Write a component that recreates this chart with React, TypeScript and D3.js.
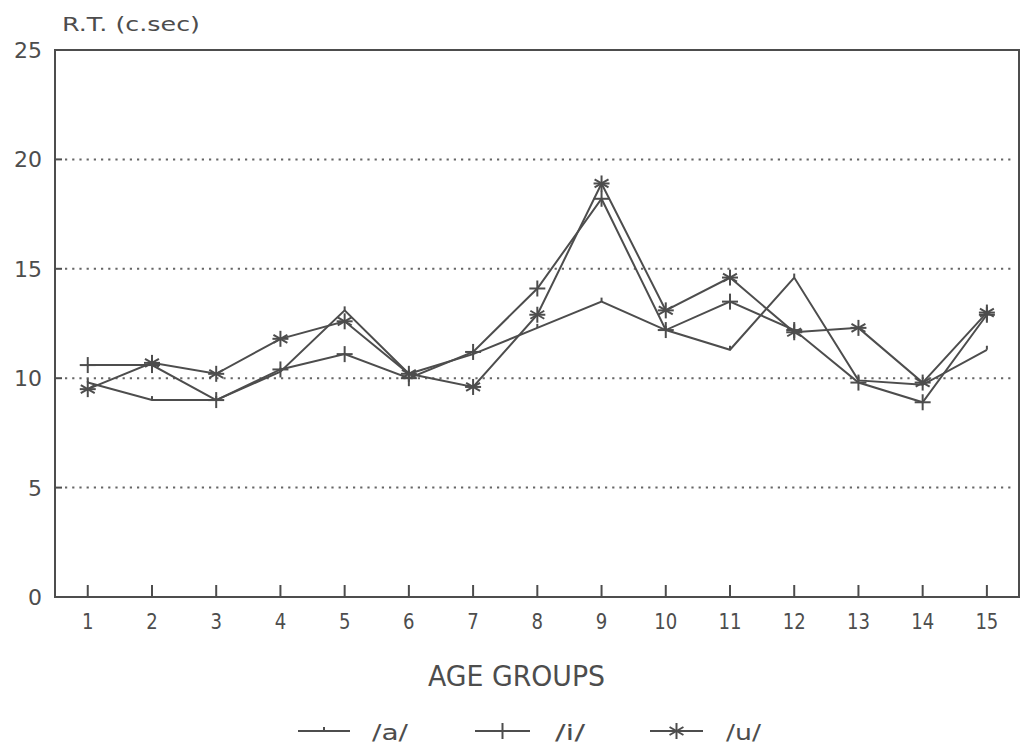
import React from "react";
import * as d3 from "d3";

const groups = [1, 2, 3, 4, 5, 6, 7, 8, 9, 10, 11, 12, 13, 14, 15];
const seriesA = [9.8, 9.0, 9.0, 10.3, 13.1, 10.2, 11.1, 12.3, 13.5, 12.2, 11.3, 14.6, 9.9, 9.7, 11.3];
const seriesI = [10.6, 10.6, 9.0, 10.4, 11.1, 10.0, 11.2, 14.1, 18.2, 12.2, 13.5, 12.2, 9.8, 8.9, 12.9];
const seriesU = [9.5, 10.7, 10.2, 11.8, 12.6, 10.2, 9.6, 12.9, 18.9, 13.1, 14.6, 12.1, 12.3, 9.8, 13.0];
const yTicks = [0, 5, 10, 15, 20, 25];
const gridTicks = [5, 10, 15, 20];
const seriesNames = ["/a/", "/i/", "/u/"];
const yTitle = "R.T. (c.sec)";
const xTitle = "AGE GROUPS";

const INK = "#4d4d4d";
const FONT = "'DejaVu Sans', sans-serif";

function Marker({ kind, x, y }: { kind: string; x: number; y: number }) {
  if (kind === "a") {
    return <line x1={x} x2={x} y1={y} y2={y - 4} stroke={INK} strokeWidth={2} />;
  }
  if (kind === "i") {
    return (
      <g stroke={INK} strokeWidth={2}>
        <line x1={x} x2={x} y1={y - 8} y2={y + 8} />
        <line x1={x - 8} x2={x + 8} y1={y} y2={y} />
      </g>
    );
  }
  const r = 8;
  return (
    <g stroke={INK} strokeWidth={2}>
      <line x1={x} x2={x} y1={y - r} y2={y + r} />
      <line x1={x - r * 0.87} x2={x + r * 0.87} y1={y - r * 0.5} y2={y + r * 0.5} />
      <line x1={x - r * 0.87} x2={x + r * 0.87} y1={y + r * 0.5} y2={y - r * 0.5} />
      <line x1={x - r} x2={x + r} y1={y} y2={y} />
    </g>
  );
}

export default function App() {
  const left = 55, right = 1019, top = 50, bottom = 597;
  const x = d3.scaleLinear().domain([0.49, 15.5]).range([left, right]);
  const y = d3.scaleLinear().domain([0, 25]).range([bottom, top]);
  const line = d3
    .line<number>()
    .x((_, i) => x(groups[i]))
    .y((d) => y(d));

  const all = [
    { key: "a", data: seriesA },
    { key: "i", data: seriesI },
    { key: "u", data: seriesU },
  ];

  const legendX = [
    { key: "a", x1: 298, x2: 350, tx: 372, w: 36 },
    { key: "i", x1: 475, x2: 530, tx: 555, w: 30 },
    { key: "u", x1: 650, x2: 703, tx: 726, w: 35 },
  ];

  return (
    <svg
      width={1024}
      height={752}
      style={{ position: "absolute", left: 0, top: 0, background: "#fff" }}
      fontFamily={FONT}
    >
      <rect width={1024} height={752} fill="#fff" />
      {gridTicks.map((t) => (
        <line
          key={t}
          x1={left + 10}
          x2={right - 4}
          y1={y(t)}
          y2={y(t)}
          stroke="#666"
          strokeWidth={2}
          strokeDasharray="2.2 5"
        />
      ))}
      <rect x={left} y={top} width={right - left} height={bottom - top} fill="none" stroke={INK} strokeWidth={2} />
      {yTicks.map((t) => (
        <g key={t}>
          <line x1={left} x2={left + 7} y1={y(t)} y2={y(t)} stroke={INK} strokeWidth={2} />
          <text x={42} y={y(t) + 8} textAnchor="end" fontSize={22} fill={INK}>
            {t}
          </text>
        </g>
      ))}
      {groups.map((g) => (
        <g key={g}>
          <line x1={x(g)} x2={x(g)} y1={bottom} y2={bottom - 12} stroke={INK} strokeWidth={2} />
          <text
            x={x(g)}
            y={629}
            textAnchor="middle"
            fontSize={22}
            fill={INK}
            textLength={String(g).length * 11.5}
            lengthAdjust="spacingAndGlyphs"
          >
            {g}
          </text>
        </g>
      ))}
      <text x={62} y={31} fontSize={20} fill={INK} textLength={138} lengthAdjust="spacingAndGlyphs">
        {yTitle}
      </text>
      <text x={428} y={686} fontSize={28} fill={INK} textLength={177} lengthAdjust="spacingAndGlyphs">
        {xTitle}
      </text>
      {all.map((s) => (
        <g key={s.key}>
          <path d={line(s.data) || ""} fill="none" stroke={INK} strokeWidth={2} />
          {s.data.map((v, i) => (
            <Marker key={i} kind={s.key} x={x(groups[i])} y={y(v)} />
          ))}
        </g>
      ))}
      {legendX.map((l, i) => (
        <g key={l.key}>
          <line x1={l.x1} x2={l.x2} y1={731} y2={731} stroke={INK} strokeWidth={2} />
          <Marker kind={l.key} x={(l.x1 + l.x2) / 2} y={731} />
          <text x={l.tx} y={740} fontSize={22} fill={INK} textLength={l.w} lengthAdjust="spacingAndGlyphs">
            {seriesNames[i]}
          </text>
        </g>
      ))}
    </svg>
  );
}
